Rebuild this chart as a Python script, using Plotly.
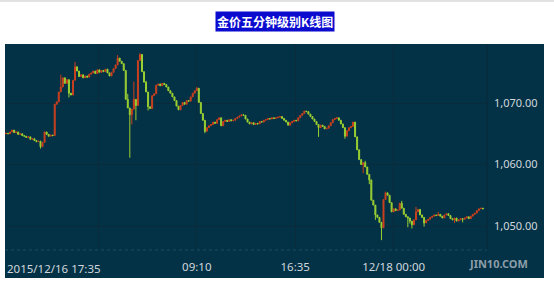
import plotly.graph_objects as go

# 5-minute gold closes, bar index order
closes = [
    1065.1, 1065.0, 1065.3, 1065.6, 1065.2, 1065.3, 1064.9, 1065.0, 1064.7, 1064.6,
    1064.4, 1064.5, 1064.1, 1064.2, 1063.9, 1063.7, 1063.8, 1062.9, 1063.6, 1065.3,
    1064.9, 1064.6, 1064.8, 1064.7, 1069.8, 1070.2, 1071.8, 1072.6, 1074.1, 1073.2,
    1073.8, 1071.6, 1071.3, 1073.7, 1075.9, 1075.2, 1074.3, 1074.6, 1074.1, 1074.4,
    1074.2, 1074.7, 1074.9, 1075.2, 1074.8, 1075.4, 1075.0, 1075.3, 1075.1, 1075.5,
    1074.9, 1074.4, 1075.0, 1075.6, 1076.2, 1077.3, 1076.8, 1076.4, 1075.3, 1070.6,
    1069.2, 1068.1, 1069.0, 1070.6, 1069.6, 1076.9, 1077.9, 1075.1, 1073.4, 1071.8,
    1069.4, 1069.1, 1071.2, 1071.5, 1072.9, 1073.1, 1072.8, 1073.2, 1073.0, 1072.6,
    1072.0, 1071.6, 1071.0, 1070.4, 1069.5, 1068.9, 1069.6, 1070.1, 1069.8, 1070.4,
    1070.3, 1071.0, 1071.6, 1072.0, 1072.4, 1070.1, 1068.3, 1067.2, 1065.4, 1066.0,
    1066.3, 1066.5, 1066.9, 1066.7, 1067.3, 1067.6, 1066.3, 1067.0, 1067.2, 1067.0,
    1067.3, 1067.1, 1067.2, 1067.5, 1067.7, 1067.9, 1068.1, 1068.0, 1067.4, 1066.9,
    1066.6, 1066.8, 1066.5, 1066.7, 1066.6, 1067.0, 1066.9, 1067.2, 1067.3, 1067.5,
    1067.4, 1067.6, 1067.5, 1067.6, 1067.7, 1067.8, 1067.5, 1067.2, 1066.9, 1066.4,
    1066.8, 1067.0, 1067.2, 1067.1, 1067.6, 1068.0, 1068.3, 1068.7, 1068.6, 1068.2,
    1067.8, 1067.4, 1067.0, 1066.5, 1066.0, 1066.4, 1066.2, 1065.8, 1065.9, 1066.3,
    1066.8, 1067.3, 1067.5, 1067.6, 1067.2, 1066.6, 1066.0, 1064.6, 1065.5, 1066.0,
    1066.2, 1066.9, 1064.5, 1062.4, 1060.8, 1060.0, 1060.3, 1059.6, 1058.4, 1057.5,
    1054.2, 1053.4, 1051.8, 1051.4, 1050.6, 1049.7, 1054.3, 1055.4, 1055.0, 1053.8,
    1052.3, 1052.8, 1052.5, 1052.6, 1053.7, 1052.9, 1051.9, 1051.5, 1051.3, 1050.8,
    1050.2, 1051.0, 1052.3, 1052.7, 1051.8, 1051.4, 1050.5, 1050.9, 1051.1, 1051.4,
    1051.6, 1051.8, 1051.7, 1051.9, 1051.6, 1051.3, 1051.8, 1052.0, 1051.7, 1051.2,
    1051.0, 1051.3, 1050.8, 1051.0, 1051.2, 1051.1, 1051.3, 1051.5, 1051.2, 1051.6,
    1051.9, 1052.1, 1052.5, 1052.8, 1052.9, 1052.8,
]
first_open = 1065.0

# notable wick extremes (bar index -> price)
wick_highs = {27: 1074.6, 34: 1076.7, 55: 1077.8, 60: 1071.5, 63: 1073.5, 66: 1078.1,
              67: 1076.5, 69: 1073.6, 94: 1072.6, 177: 1060.6, 187: 1055.6, 195: 1054.1,
              202: 1053.1, 213: 1052.3}
wick_lows = {17: 1062.6, 31: 1070.9, 61: 1061.1, 62: 1066.5, 64: 1067.2, 70: 1068.8,
             98: 1065.1, 154: 1064.5, 167: 1064.2, 176: 1058.6, 179: 1056.8, 182: 1051.0,
             185: 1047.7, 198: 1049.8, 199: 1050.4, 200: 1049.6, 206: 1049.9, 221: 1050.5,
             225: 1050.6}

tick_positions = [45.5, 94, 142.5, 191]
tick_labels = ["", "09:10", "16:35", "12/18 00:00"]
y_ticks = [1050, 1060, 1070]
start_label = "2015/12/16 17:35"
title_text = "金价五分钟级别K线图"
brand_text = "JIN10.COM"

idx = list(range(len(closes)))
opens = [first_open] + closes[:-1]
highs = [wick_highs.get(i, max(o, c)) for i, (o, c) in enumerate(zip(opens, closes))]
lows = [wick_lows.get(i, min(o, c)) for i, (o, c) in enumerate(zip(opens, closes))]

BG = "#033145"
RED = "#c9401f"
GREEN = "#9bd033"

fig = go.Figure(go.Candlestick(
    x=idx, open=opens, high=highs, low=lows, close=closes,
    increasing=dict(line=dict(color=RED, width=1), fillcolor=RED),
    decreasing=dict(line=dict(color=GREEN, width=1), fillcolor=GREEN),
    whiskerwidth=0, showlegend=False, hoverinfo="skip",
))

W, H = 554, 288
L, R, T, B = 5, 67, 44, 38
pw, ph = W - L - R, H - T - B

def px_x(x):
    return (x - L) / pw

def px_y(y):
    return (H - B - y) / ph

shapes = [
    dict(type="rect", xref="paper", yref="paper", x0=px_x(5), x1=px_x(544),
         y0=px_y(278), y1=px_y(44), fillcolor=BG, line=dict(width=0), layer="below"),
    dict(type="rect", xref="paper", yref="paper", x0=px_x(0), x1=px_x(554),
         y0=px_y(2), y1=px_y(0), fillcolor="#e2e2e2", line=dict(width=0), layer="below"),
    dict(type="line", xref="paper", yref="paper", x0=0, x1=1, y0=0, y1=0,
         line=dict(color="#1c4d66", width=1, dash="dot")),
    dict(type="line", xref="paper", yref="paper", x0=1, x1=1, y0=0, y1=1,
         line=dict(color="#0a2a3b", width=1)),
]

annotations = [
    dict(text="<b>" + title_text + "</b>", xref="paper", yref="paper",
         x=px_x(275), y=px_y(21), xanchor="center", yanchor="middle", showarrow=False,
         font=dict(family="Noto Sans CJK SC", size=12, color="white"),
         bgcolor="#0b0bd0", borderpad=1),
    dict(text=start_label, xref="paper", yref="paper", x=px_x(5), y=px_y(268),
         xanchor="left", yanchor="middle", showarrow=False,
         font=dict(family="Noto Sans", size=11.5, color="#d0d8de")),
    dict(text="<b>" + brand_text + "</b>", xref="paper", yref="paper", x=px_x(499), y=px_y(263),
         xanchor="center", yanchor="middle", showarrow=False,
         font=dict(family="Noto Sans", size=11, color="#8c9ea9")),
]

fig.update_layout(
    width=W, height=H, margin=dict(l=L, r=R, t=T, b=B),
    paper_bgcolor="white", plot_bgcolor=BG,
    shapes=shapes, annotations=annotations,
    xaxis=dict(range=[-0.5, 237.0], rangeslider=dict(visible=False),
               tickvals=tick_positions, ticktext=tick_labels,
               showgrid=True, gridcolor="#0a2b3c", gridwidth=1,
               zeroline=False, showline=False, ticks="",
               tickfont=dict(family="Noto Sans", size=11.5, color="#d0d8de"),
               ticklabelstandoff=8, fixedrange=True),
    yaxis=dict(range=[1046.1, 1079.6], side="right",
               tickvals=y_ticks, tickformat=",.2f",
               showgrid=True, gridcolor="#0a2b3c", gridwidth=1,
               zeroline=False, showline=False, ticks="",
               tickfont=dict(family="Noto Sans", size=11, color="#d0d8de"),
               ticklabelstandoff=6, fixedrange=True),
)

fig.write_html("out.html")
